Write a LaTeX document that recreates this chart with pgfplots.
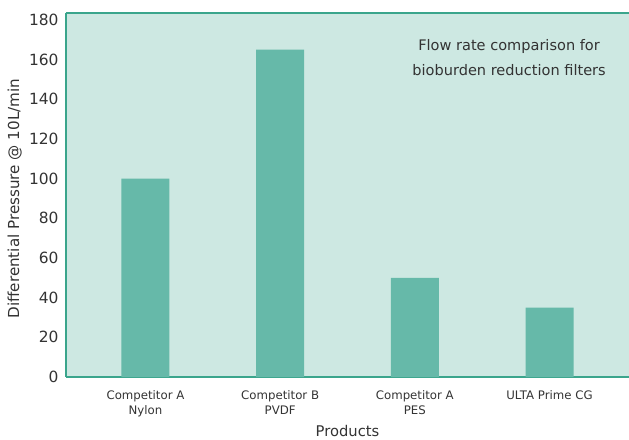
\documentclass[border=0pt]{standalone}
\usepackage{pgfplots}
\pgfplotsset{compat=1.18}
\usepackage{fontspec}
\setmainfont{DejaVu Sans}
\definecolor{bgc}{HTML}{CDE8E2}
\definecolor{barc}{HTML}{66B9A9}
\definecolor{axc}{HTML}{3AA58C}
\definecolor{txt}{HTML}{333333}
\begin{document}
\begin{tikzpicture}[x=1bp,y=1bp]
\path[use as bounding box] (-66bp,-63bp) rectangle (563bp,377bp);
\begin{axis}[
  at={(0,0)}, anchor=south west,
  scale only axis, width=563bp, height=364bp,
  xmin=-0.59, xmax=3.59, ymin=0, ymax=183.5,
  axis background/.style={fill=bgc},
  axis x line*=bottom, axis y line*=left,
  axis line style={draw=axc, line width=1.2pt},
  xtick={0,1,2,3},
  xticklabels={{Competitor A\\Nylon},{Competitor B\\PVDF},{Competitor A\\PES},{ULTA Prime CG}},
  x tick label style={align=center, font=\fontsize{11.8}{15.5}\selectfont, text=txt, anchor=north, yshift=-10bp},
  ytick={0,20,...,180},
  y tick label style={font=\fontsize{15.5}{17}\selectfont, text=txt},
  /pgf/number format/assume math mode=true,
  major tick length=0pt,
  yticklabel style={xshift=-4bp},
  xlabel={Products}, xlabel style={font=\fontsize{14.8}{17}\selectfont, text=txt, at={(0.5,-0.147)}, anchor=center},
  ylabel={Differential Pressure @ 10L/min}, ylabel style={font=\fontsize{15.2}{17}\selectfont, text=txt, at={(-0.091,0.49)}, anchor=center},
  ybar, bar width=48bp,
  clip=false,
]
\draw[axc, line width=1.2pt] (rel axis cs:0,1) -- (rel axis cs:1,1);
\addplot[fill=barc, draw=none, bar shift=0pt] coordinates {(0,100) (1,165) (2,50) (3,35)};
\node[align=center, font=\fontsize{14.6}{17}\selectfont, text=txt] at (rel axis cs:0.787,0.878) {Flow rate comparison for\\[8bp]bioburden reduction filters};
\end{axis}
\end{tikzpicture}
\end{document}
